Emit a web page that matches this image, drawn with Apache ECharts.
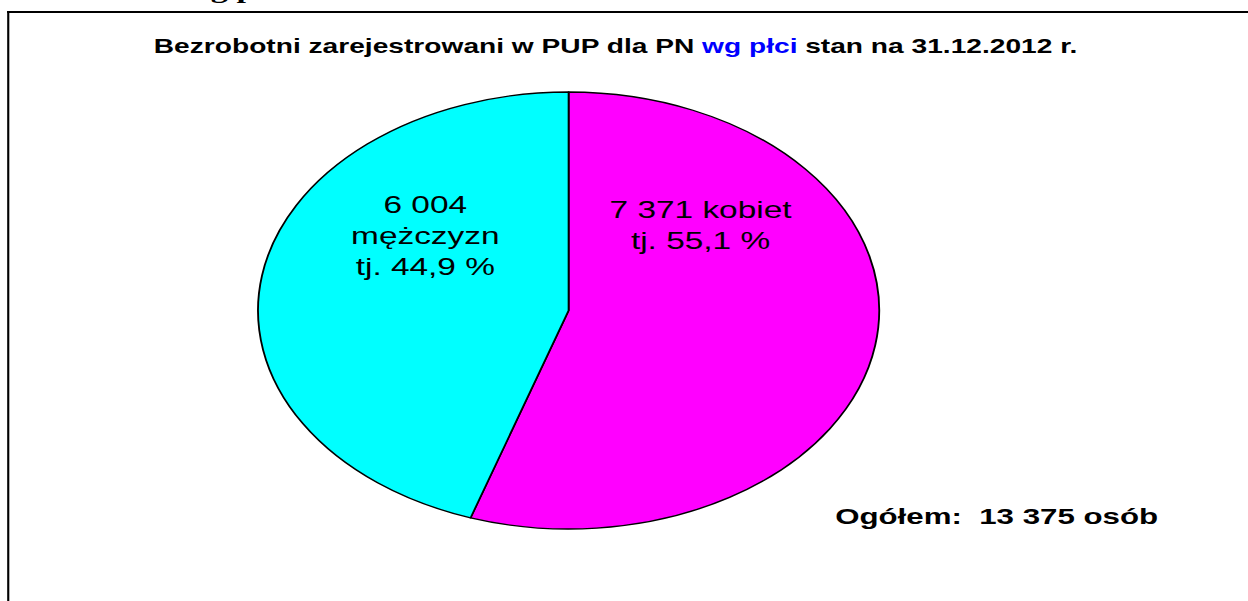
<!DOCTYPE html>
<html>
<head>
<meta charset="utf-8">
<script src="https://cdn.jsdelivr.net/npm/echarts@6/dist/echarts.min.js"></script>
<style>
  html, body { margin: 0; padding: 0; width: 1248px; height: 601px; overflow: hidden; background: #fff; }
  #main { position: absolute; left: 0; top: 0; width: 878px; height: 601px; transform: scaleX(1.4215); transform-origin: 0 0; }
</style>
</head>
<body>
<div id="main"></div>
<script>
// ---- data ----
const categories = ['kobiet', 'mężczyzn'];
const values = [7371, 6004];
const colors = ['#ff00ff', '#00ffff'];
const titleParts = ['Bezrobotni zarejestrowani w PUP dla PN ', 'wg płci', ' stan na 31.12.2012 r.'];
const totalLabel = 'Ogółem:';
const totalUnit = 'osób';
const headingFragment = 'wg płci';

const total = values.reduce((a, b) => a + b, 0);
function fmtInt(n) { return String(n).replace(/\B(?=(\d{3})+(?!\d))/g, ' '); }
function fmtPct(v) { return (v / total * 100).toFixed(1).replace('.', ',') + ' %'; }

const chart = echarts.init(document.getElementById('main'), null, { renderer: 'svg', width: 878, height: 601 });

const labelOffsets = [[-18, -103], [10, -57]];

chart.setOption({
  animation: false,
  title: {
    text: '{b|' + titleParts[0] + '}{blue|' + titleParts[1] + '}{b|' + titleParts[2] + '}',
    left: 428, top: 31, textAlign: 'center',
    textStyle: {
      rich: {
        b: { fontFamily: 'Liberation Sans, Arial, sans-serif', fontWeight: 'bold', fontSize: 19.8, color: '#000' },
        blue: { fontFamily: 'Liberation Sans, Arial, sans-serif', fontWeight: 'bold', fontSize: 19.8, color: '#0000ff' }
      }
    }
  },
  graphic: [
    { type: 'line', shape: { x1: 5.8, y1: 11, x2: 5.8, y2: 700 }, style: { stroke: '#000', lineWidth: 1.5 } },
    { type: 'line', shape: { x1: 5, y1: 12, x2: 1000, y2: 12 }, style: { stroke: '#000', lineWidth: 2 } },
    { type: 'text', left: 131, top: -22, style: { text: headingFragment, font: 'bold 24px "Liberation Serif", "Times New Roman", serif', fill: '#000' } },
    { type: 'text', left: 702.5 - 115, top: 506, style: { text: totalLabel + '  ' + fmtInt(total) + ' ' + totalUnit, font: 'bold 22px "Liberation Sans", Arial, sans-serif', fill: '#000' } }
  ],
  series: [{
    type: 'pie',
    center: [400, 310.5],
    radius: 218.5,
    startAngle: 90,
    clockwise: true,
    silent: true,
    data: categories.map((c, i) => ({ name: c, value: values[i], itemStyle: { color: colors[i] } })),
    itemStyle: { borderColor: '#000', borderWidth: 1.3 },
    label: {
      show: true,
      position: 'inside',
      fontFamily: 'Liberation Sans, Arial, sans-serif',
      fontSize: 23.5,
      lineHeight: 31,
      color: '#000',
      align: 'center',
      formatter: function (p) {
        if (p.dataIndex === 0) return fmtInt(p.value) + ' ' + p.name + '\ntj. ' + fmtPct(p.value);
        return fmtInt(p.value) + '\n' + p.name + '\ntj. ' + fmtPct(p.value);
      }
    },
    labelLine: { show: false },
    labelLayout: function (params) {
      const o = labelOffsets[params.dataIndex];
      return { dx: o[0], dy: o[1] };
    }
  }]
});
</script>
</body>
</html>
